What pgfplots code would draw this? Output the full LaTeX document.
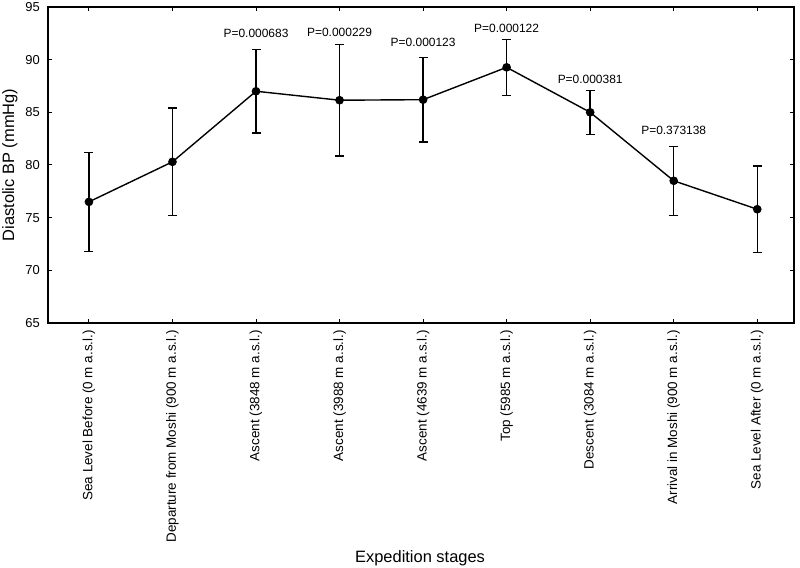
\documentclass[border=0pt]{standalone}
\usepackage{pgfplots}
\pgfplotsset{compat=1.18}
\usepackage{pgfplotstable}
\usepackage{fontspec}
\setmainfont{Liberation Sans}
\pgfplotstableread{
x y e
0 76.5 4.7
1 80.3 5.1
2 87.0 3.98
3 86.15 5.3
4 86.2 4.02
5 89.27 2.66
6 85.0 2.1
7 78.5 3.28
8 75.8 4.1
}\bpdata
\begin{document}
\begin{tikzpicture}[x=1bp,y=1bp]
\useasboundingbox (0,0) rectangle (800,568);
\begin{axis}[
  at={(48bp,245bp)}, anchor=south west,
  scale only axis, width=746bp, height=316bp,
  xmin=-0.49, xmax=8.44, ymin=65, ymax=95,
  ytick={65,70,...,95},
  xtick={0,...,8},
  xticklabels={Sea Level Before (0 m a.s.l.),Departure from Moshi (900 m a.s.l.),Ascent (3848 m a.s.l.),Ascent (3988 m a.s.l.),Ascent (4639 m a.s.l.),Top (5985 m a.s.l.),Descent (3084 m a.s.l.),Arrival in Moshi (900 m a.s.l.),Sea Level After (0 m a.s.l.)},
  xticklabel style={rotate=90, anchor=east, font=\fontsize{13.5}{15}\selectfont, inner sep=0pt, xshift=-7bp},
  yticklabel style={font=\fontsize{13}{15}\selectfont, inner sep=0pt, xshift=-8bp},
  /pgf/number format/assume math mode=true,
  tick align=inside, major tick length=4bp,
  tick style={black, line width=1bp},
  axis line style={black, line width=1.6bp},
  xlabel={Expedition stages},
  ylabel={Diastolic BP (mmHg)},
  every axis x label/.style={at={(axis description cs:0.4987,-0.744)}, anchor=center, font=\fontsize{16.5}{18}\selectfont},
  every axis y label/.style={at={(axis description cs:-0.051,0.5)}, rotate=90, anchor=center, font=\fontsize{16.5}{18}\selectfont},
  clip=false,
]
\addplot[black, line width=1.4bp, mark=*, mark size=3.6bp,
  error bars/.cd, y dir=both, y explicit,
  error bar style={line width=1.4bp, black},
  error mark options={rotate=90, mark size=4.5bp, line width=1.4bp, black}]
  table[x=x, y=y, y error=e] {\bpdata};
\begin{scope}[every node/.style={font=\fontsize{12}{14}\selectfont, anchor=center}]
\node at (axis cs:2,92.53) {P=0.000683};
\node at (axis cs:3,92.63) {P=0.000229};
\node at (axis cs:4,91.6) {P=0.000123};
\node at (axis cs:5,93.0) {P=0.000122};
\node at (axis cs:6,88.16) {P=0.000381};
\node at (axis cs:7,83.3) {P=0.373138};
\end{scope}
\end{axis}
\end{tikzpicture}
\end{document}
